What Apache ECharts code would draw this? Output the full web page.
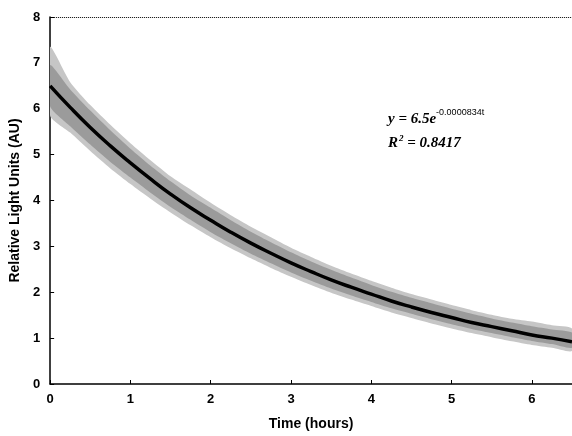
<!DOCTYPE html>
<html>
<head>
<meta charset="utf-8">
<script src="https://cdn.jsdelivr.net/npm/echarts@6/dist/echarts.min.js"></script>
<style>
  html, body { margin: 0; padding: 0; background: #fff; }
  #chart { width: 572px; height: 436px; }
</style>
</head>
<body>
<div id="chart"></div>
<script>
// time in hours
const hours = [0, 0.25, 0.5, 0.75, 1, 1.25, 1.5, 1.75, 2, 2.25, 2.5, 2.75, 3, 3.25, 3.5,
  3.75, 4, 4.25, 4.5, 4.75, 5, 5.25, 5.5, 5.75, 6, 6.25, 6.5]
// black trend line
const fitLine = [6.50, 6.03, 5.59, 5.19, 4.82, 4.47, 4.14, 3.84, 3.57, 3.31, 3.07, 2.85, 2.64,
  2.45, 2.27, 2.11, 1.96, 1.81, 1.68, 1.56, 1.45, 1.34, 1.25, 1.16, 1.07, 1.00, 0.92]
// dense part of the noisy measurement band
const coreUpper = [6.95, 6.42, 5.96, 5.53, 5.13, 4.76, 4.42, 4.11, 3.84, 3.57, 3.32, 3.09, 2.87,
  2.67, 2.49, 2.32, 2.16, 2.01, 1.88, 1.76, 1.64, 1.53, 1.43, 1.34, 1.26, 1.19, 1.12]
const coreLower = [6.05, 5.62, 5.22, 4.84, 4.50, 4.17, 3.86, 3.58, 3.31, 3.07, 2.84, 2.63, 2.43,
  2.25, 2.08, 1.93, 1.79, 1.65, 1.53, 1.41, 1.30, 1.20, 1.11, 1.02, 0.94, 0.87, 0.79]
// faint fringe of the band
const outerUpper = [7.35, 6.58, 6.08, 5.65, 5.25, 4.88, 4.53, 4.24, 3.95, 3.68, 3.43, 3.20, 2.97,
  2.77, 2.58, 2.41, 2.25, 2.10, 1.96, 1.84, 1.72, 1.61, 1.51, 1.42, 1.36, 1.28, 1.21]
const outerLower = [5.85, 5.48, 5.08, 4.70, 4.36, 4.04, 3.74, 3.46, 3.20, 2.96, 2.74, 2.53, 2.34,
  2.16, 1.99, 1.84, 1.70, 1.56, 1.44, 1.32, 1.21, 1.11, 1.02, 0.93, 0.85, 0.79, 0.72]

const xTicks = [0, 1, 2, 3, 4, 5, 6]

function pairs(ys) {
  return hours.map((h, i) => [h, ys[i]])
}

const font = '"Liberation Sans", Arial, sans-serif'
const chart = echarts.init(document.getElementById('chart'), null, { renderer: 'canvas' })

// band drawn as a polygon: upper edge left->right, lower edge right->left
function bandSeries(name, upper, lower, color) {
  return {
    name,
    type: 'custom',
    silent: true,
    data: [0],
    renderItem: (params, api) => {
      const top = hours.map((h, i) => api.coord([h, upper[i]]))
      const bottom = hours.map((h, i) => api.coord([h, lower[i]])).reverse()
      return {
        type: 'polygon',
        shape: { points: top.concat(bottom), smooth: 0.2 },
        style: { fill: color, stroke: null }
      }
    },
    clip: true,
    z: 2
  }
}

chart.setOption({
  animation: false,
  backgroundColor: '#fff',
  grid: { left: 48, right: 0, top: 17, bottom: 49 },
  xAxis: {
    type: 'value',
    min: 0,
    max: 6.5,
    interval: 1,
    name: 'Time (hours)',
    nameLocation: 'middle',
    nameGap: 33,
    nameTextStyle: { fontFamily: font, fontWeight: 'bold', fontSize: 14, color: '#000' },
    axisLine: { lineStyle: { color: '#000', width: 1.5 } },
    axisTick: { inside: true, length: 4, lineStyle: { color: '#000' } },
    axisLabel: {
      showMaxLabel: false,
      margin: 9,
      fontFamily: font,
      fontWeight: 'bold',
      fontSize: 13,
      color: '#000',
      formatter: v => (xTicks.includes(v) ? String(v) : '')
    },
    splitLine: { show: false }
  },
  yAxis: {
    type: 'value',
    min: 0,
    max: 8,
    interval: 1,
    name: 'Relative Light Units (AU)',
    nameLocation: 'middle',
    nameGap: 28,
    nameTextStyle: { fontFamily: font, fontWeight: 'bold', fontSize: 14, color: '#000' },
    axisLine: { show: true, lineStyle: { color: '#000', width: 1.5 } },
    axisTick: { show: true, inside: true, length: 4, lineStyle: { color: '#000' } },
    axisLabel: { margin: 10, fontFamily: font, fontWeight: 'bold', fontSize: 13, color: '#000' },
    splitLine: { show: false }
  },
  series: [
    bandSeries('outerBand', outerUpper, outerLower, '#c6c6c6'),
    bandSeries('coreBand', coreUpper, coreLower, '#9b9b9b'),
    {
      name: 'fit',
      type: 'line',
      data: pairs(fitLine),
      smooth: true,
      symbol: 'none',
      lineStyle: { color: '#000', width: 3.5 },
      z: 5,
      markLine: {
        silent: true,
        symbol: 'none',
        label: { show: false },
        lineStyle: { color: '#000', type: 'dotted', width: 1 },
        data: [{ yAxis: 8 }]
      }
    }
  ],
  graphic: [
    {
      type: 'text',
      left: 388,
      top: 108,
      style: {
        text: '{b|y = 6.5e}{s|-0.0000834t}\n{b|R}{s2|2}{b| = 0.8417}',
        rich: {
          b: { fontFamily: '"Liberation Serif", "Times New Roman", serif', fontStyle: 'italic', fontWeight: 'bold', fontSize: 15, color: '#000', lineHeight: 24, verticalAlign: 'bottom' },
          s: { fontFamily: '"Liberation Sans", Arial, sans-serif', fontSize: 9, color: '#000', padding: [0, 0, 10, 0], verticalAlign: 'bottom' },
          s2: { fontFamily: '"Liberation Serif", serif', fontStyle: 'italic', fontWeight: 'bold', fontSize: 9, color: '#000', padding: [0, 0, 8, 1], verticalAlign: 'bottom' }
        }
      }
    }
  ]
})
</script>
</body>
</html>
